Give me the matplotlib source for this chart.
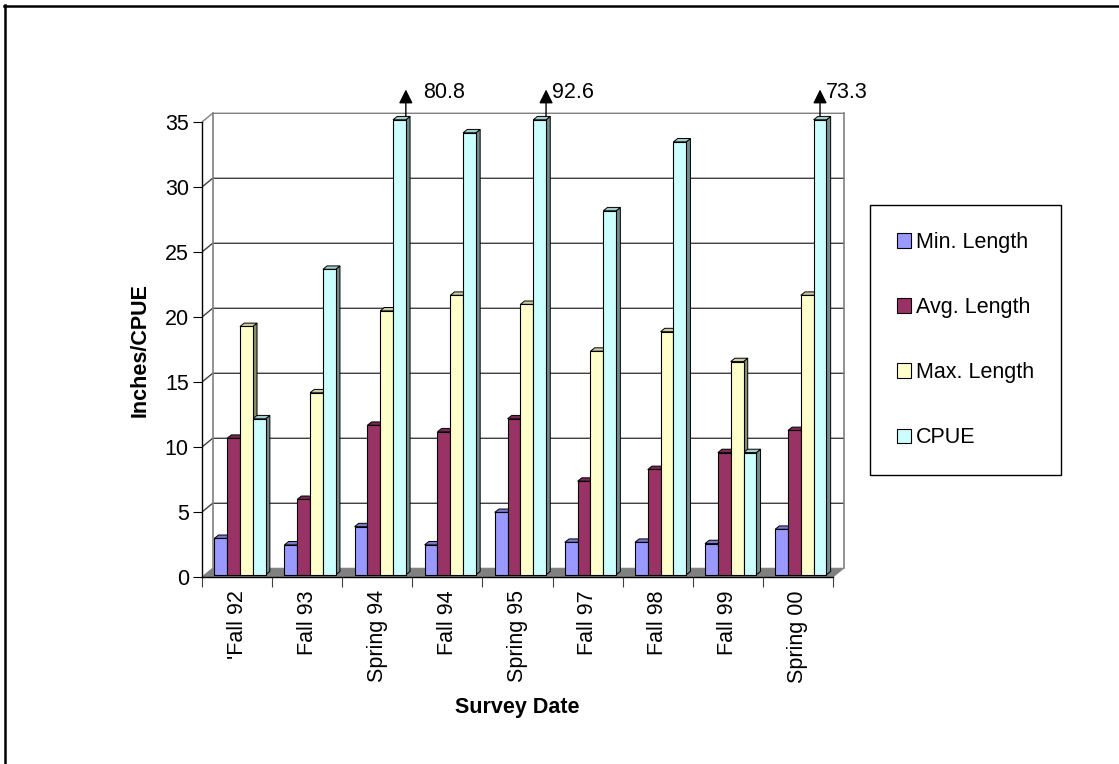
import numpy as np
import matplotlib.pyplot as plt
from matplotlib.colors import to_rgb
from matplotlib.lines import Line2D
from matplotlib.patches import Polygon

plt.rcParams['font.family'] = ['Liberation Sans', 'DejaVu Sans']

surveys = ["'Fall 92", 'Fall 93', 'Spring 94', 'Fall 94', 'Spring 95',
           'Fall 97', 'Fall 98', 'Fall 99', 'Spring 00']
min_length = [2.8, 2.3, 3.7, 2.3, 4.8, 2.5, 2.5, 2.4, 3.5]
avg_length = [10.5, 5.8, 11.5, 11.0, 12.0, 7.2, 8.1, 9.4, 11.1]
max_length = [19.1, 14.0, 20.3, 21.5, 20.8, 17.2, 18.7, 16.4, 21.5]
cpue = [12.0, 23.5, 80.8, 34.0, 92.6, 28.0, 33.3, 9.4, 73.3]

series = [min_length, avg_length, max_length, cpue]
names = ['Min. Length', 'Avg. Length', 'Max. Length', 'CPUE']
colors = ['#9999FF', '#993366', '#FFFFCC', '#CCFFFF']
y_top = 35

W, H = 1119, 764
fig = plt.figure(figsize=(W / 100, H / 100), dpi=100)

# plot area in pixels: first category edge at x=202, zero line at y=577
x0, y0 = 202, 577
px_cat, px_val = 70.1, 13.0
xmax, ymax = 9.5, 38.5
ax = fig.add_axes([x0 / W, (H - y0) / H, xmax * px_cat / W, ymax * px_val / H])
ax.set_xlim(0, xmax)
ax.set_ylim(0, ymax)
ncat = len(surveys)


def shade(c, f):
    return tuple(v * f for v in to_rgb(c))


# back wall / floor offset (depth of the 3d box)
wdx, wdy = 0.152, 0.67
wall = '#808080'
floor = Polygon([(0, 0), (ncat, 0), (ncat + wdx, wdy), (wdx, wdy)],
                fc=wall, ec=wall, lw=0.8, zorder=1)
ax.add_patch(floor)
for v in range(5, y_top + 1, 5):
    col = wall if v == y_top else '#404040'
    ax.plot([0, wdx, ncat + wdx], [v, v + wdy, v + wdy], color=col, lw=1, zorder=1)
ax.plot([wdx, wdx], [wdy, y_top + wdy], color=wall, lw=1.2, zorder=1)
ax.plot([ncat + wdx] * 2, [wdy, y_top + wdy], color=wall, lw=1.2, zorder=1)

# 3d-looking columns: front face via bar(), side and top faces as polygons
bw, start = 0.183, 0.176
bdx, bdy = 0.06, 0.26
base = 0.17  # columns stand a little way back on the floor
x = np.arange(ncat)
handles = []
for i, vals in enumerate(series):
    h = np.minimum(vals, y_top)
    lefts = x + start + i * bw
    bars = ax.bar(lefts, h, width=bw, bottom=base, align='edge', color=colors[i],
                  edgecolor='black', linewidth=0.8, zorder=4, label=names[i])
    handles.append(bars)
    for left, v in zip(lefts, h + base):
        right = left + bw
        ax.add_patch(Polygon([(right, base), (right + bdx, base + bdy),
                              (right + bdx, v + bdy), (right, v)],
                             fc=shade(colors[i], 0.55), ec='black', lw=0.7, zorder=3))
        ax.add_patch(Polygon([(left, v), (left + bdx, v + bdy), (right + bdx, v + bdy), (right, v)],
                             fc=shade(colors[i], 0.8), ec='black', lw=0.7, zorder=3))

# off-scale CPUE columns get an arrow and their real value
arrow_pos = {2: 1.0, 4: 1.0, 8: 0.5}
text_gap = {2: 0.24, 4: 0.08, 8: 0.085}
for k, v in enumerate(cpue):
    if v <= y_top:
        continue
    xa = k + start + 3 * bw + arrow_pos[k] * bw
    ax.annotate('', xy=(xa, 37.5), xytext=(xa, y_top + base + bdy),
                arrowprops=dict(arrowstyle='-|>,head_length=0.6,head_width=0.3',
                                mutation_scale=14, color='black', lw=1,
                                shrinkA=0, shrinkB=0),
                annotation_clip=False, zorder=5)
    ax.text(xa + text_gap[k], 37.25, f'{v:.1f}', fontsize=15.5,
            ha='left', va='center', clip_on=False)

for s in ['top', 'right']:
    ax.spines[s].set_visible(False)
ax.spines['left'].set_bounds(0, y_top)
ax.spines['bottom'].set_bounds(0, ncat)
ax.spines['left'].set_linewidth(1)
ax.spines['bottom'].set_linewidth(1)
ax.spines['left'].set_zorder(6)
ax.spines['bottom'].set_zorder(6)

ax.set_yticks(range(0, y_top + 1, 5))
ax.tick_params(axis='y', length=6.5, width=0.8, pad=3, labelsize=15.5)
ax.set_xticks(x + 0.5, surveys, rotation=90)
ax.set_xticks(np.arange(ncat + 1), minor=True)
ax.tick_params(axis='x', which='major', length=0, pad=9.5, labelsize=15.5)
ax.tick_params(axis='x', which='minor', length=7, width=0.8, color='#404040')
for lab in ax.get_xticklabels():
    lab.set_va('top')

fig.text(517 / W, 1 - 707 / H, 'Survey Date', ha='center', va='center',
         fontsize=15.5, fontweight='bold')
fig.text(140 / W, 1 - 350 / H, 'Inches/CPUE', ha='center', va='center',
         rotation=90, fontsize=15.5, fontweight='bold')

leg = ax.legend(handles, names, loc='upper left',
                bbox_to_anchor=(870 / W, 1 - 205 / H), bbox_transform=fig.transFigure,
                fontsize=15.5, frameon=True, fancybox=False, framealpha=1,
                edgecolor='black', borderpad=1.25, labelspacing=2.05,
                handlelength=0.65, handleheight=0.65, handletextpad=0.25,
                borderaxespad=0)
leg.get_frame().set_linewidth(1)

# chart border (only the top and left edges fall inside the image)
fig.add_artist(Line2D([4 / W, 1], [1 - 6 / H] * 2, color='black', lw=1.8,
                      transform=fig.transFigure))
fig.add_artist(Line2D([5 / W] * 2, [0, 1 - 5 / H], color='black', lw=1.8,
                      transform=fig.transFigure))

fig.savefig('out.png', dpi=100)
